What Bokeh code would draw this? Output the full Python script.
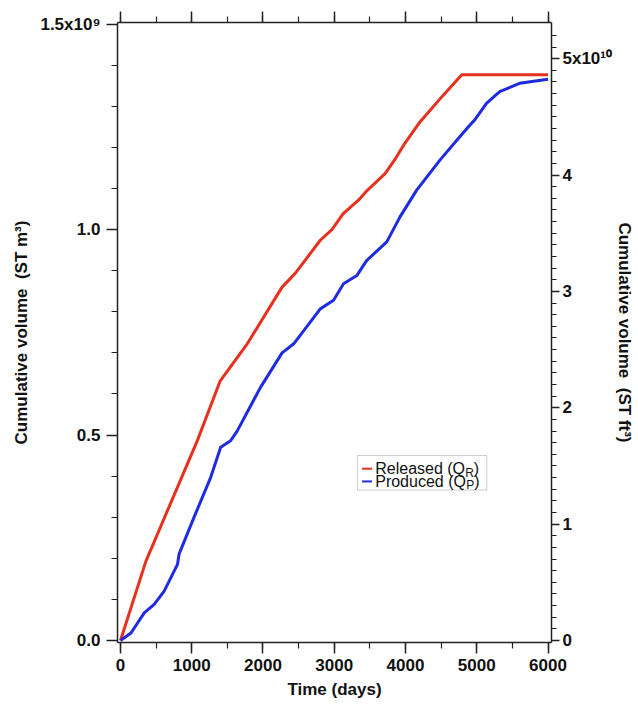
from bokeh.plotting import figure
from bokeh.models import Range1d, LinearAxis, FixedTicker, BoxAnnotation, Label, Arrow
from bokeh.embed import file_html
from bokeh.resources import INLINE

# Cumulative volumes in units of 1e9 standard m^3 versus time in days
released_days = [0, 357, 1080, 1400, 1779, 2268, 2455, 2804, 2967, 3126, 3336, 3461,
                 3713, 3850, 3990, 4203, 4524, 4790, 6000]
released_vol = [0.0, 0.193, 0.487, 0.632, 0.722, 0.860, 0.894, 0.974, 1.000, 1.039, 1.071,
                1.095, 1.136, 1.170, 1.210, 1.262, 1.326, 1.377, 1.377]

produced_days = [0, 147, 333, 473, 613, 800, 822, 1033, 1266, 1406, 1545, 1639, 1965, 2268,
                 2431, 2804, 2990, 3130, 3317, 3410, 3457, 3737, 3923, 4157, 4483, 4762,
                 4902, 4972, 5136, 5322, 5601, 6000]
produced_vol = [0.0, 0.018, 0.067, 0.088, 0.120, 0.185, 0.210, 0.300, 0.397, 0.470, 0.486,
                0.510, 0.616, 0.700, 0.722, 0.807, 0.828, 0.868, 0.888, 0.913, 0.925, 0.970,
                1.031, 1.096, 1.169, 1.226, 1.254, 1.267, 1.307, 1.336, 1.356, 1.366]

x_ticks = [0, 1000, 2000, 3000, 4000, 5000, 6000]
x_minor = [0, 500, 1000, 1500, 2000, 2500, 3000, 3500, 4000, 4500, 5000, 5500, 6000]
m3_ticks = [0, 0.5, 1.0, 1.5]
m3_labels = ["0.0", "0.5", "1.0", "1.5x10\u2079"]
ft3_ticks = [0, 1, 2, 3, 4, 5]
ft3_labels = ["0", "1", "2", "3", "4", "5x10\u00b9\u2070"]

M3_TO_FT3_E10 = 35.3147 / 10.0  # 1e9 m^3 -> 1e10 ft^3

FONT = "Liberation Sans"
AXIS_COLOR = "#222222"
RED = "#e8301e"
BLUE = "#1e2be0"

y0, y1 = -0.005, 1.504
p = figure(width=638, height=715, x_range=Range1d(-42, 6049), y_range=Range1d(y0, y1),
           output_backend="svg", toolbar_location=None,
           min_border_left=117, min_border_right=87, min_border_top=22, min_border_bottom=73)
p.outline_line_color = None
p.grid.visible = False
p.background_fill_color = "white"

p.extra_y_ranges = {"ft3": Range1d(y0 * M3_TO_FT3_E10, y1 * M3_TO_FT3_E10)}


def style_axis(ax, major, minor, labels=None, tick_out=11, minor_out=6):
    ax.ticker = FixedTicker(ticks=major, minor_ticks=minor)
    ax.axis_line_color = AXIS_COLOR
    ax.axis_line_width = 1.5
    ax.major_tick_line_color = AXIS_COLOR
    ax.major_tick_line_width = 1.5
    ax.minor_tick_line_color = AXIS_COLOR
    ax.minor_tick_line_width = 1.2
    ax.major_tick_out = tick_out
    ax.major_tick_in = 0
    ax.minor_tick_out = minor_out
    ax.minor_tick_in = 0
    ax.major_label_text_font = FONT
    ax.major_label_text_font_style = "bold"
    ax.major_label_text_font_size = "17px"
    ax.major_label_text_color = "#111111"
    ax.axis_label_text_font = FONT
    ax.axis_label_text_font_style = "bold"
    ax.axis_label_text_font_size = "17px"
    ax.axis_label_text_color = "#111111"
    if labels is not None:
        ax.major_label_overrides = {t: s for t, s in zip(major, labels)}


# bottom axis
xa = p.xaxis[0]
style_axis(xa, x_ticks, x_minor)
xa.axis_label = "Time (days)"
xa.major_label_standoff = 5
xa.axis_label_standoff = 6

# left axis (m^3)
ya = p.yaxis[0]
style_axis(ya, m3_ticks, [round(0.1 * i, 1) for i in range(16)], m3_labels)
ya.axis_label = "Cumulative volume \u00a0(ST m\u00b3)"
ya.major_label_standoff = 6
ya.axis_label_standoff = 6

# right axis (ft^3): ticks and numbers
ra = LinearAxis(y_range_name="ft3")
style_axis(ra, ft3_ticks, [round(0.1 * i, 1) for i in range(53)], ft3_labels,
           tick_out=8, minor_out=5)
ra.major_label_standoff = 3
p.add_layout(ra, "right")

# right axis title, carried by a bare axis placed outside the numbers
rt = LinearAxis(y_range_name="ft3", ticker=FixedTicker(ticks=[], minor_ticks=[]))
rt.axis_line_color = None
rt.major_tick_line_color = None
rt.minor_tick_line_color = None
rt.major_tick_out = 0
rt.minor_tick_out = 0
rt.major_label_standoff = 0
rt.axis_label = "Cumulative volume \u00a0(ST ft\u00b3)"
rt.axis_label_standoff = 0
rt.axis_label_text_font = FONT
rt.axis_label_text_font_style = "bold"
rt.axis_label_text_font_size = "17px"
rt.axis_label_text_color = "#111111"
p.add_layout(rt, "right")

# top axis: ticks only, no labels
ta = LinearAxis()
style_axis(ta, x_ticks, x_minor, labels=[""] * len(x_ticks))
ta.major_label_text_font_size = "1px"
ta.major_label_text_color = None
ta.major_label_standoff = 0
p.add_layout(ta, "above")

p.line(released_days, released_vol, line_color=RED, line_width=3)
p.line(produced_days, produced_vol, line_color=BLUE, line_width=3)

# legend box with subscripted labels
leg_left, leg_right = 3326, 5140
leg_top, leg_bottom = 0.450, 0.366
row1, row2 = 0.418, 0.387
p.add_layout(BoxAnnotation(left=leg_left, right=leg_right, top=leg_top, bottom=leg_bottom,
                           fill_color="white", fill_alpha=1.0,
                           line_color="#555555", line_width=1))
for row, col in ((row1, RED), (row2, BLUE)):
    p.add_layout(Arrow(end=None, x_start=3390, y_start=row, x_end=3530, y_end=row,
                       line_color=col, line_width=2))

TXT = dict(text_font=FONT, text_font_size="16px", text_color="#111111",
           text_baseline="middle", text_align="left")
SUB = dict(text_font=FONT, text_font_size="12px", text_color="#111111",
           text_baseline="middle", text_align="left")
x_txt = 3575
p.add_layout(Label(x=x_txt, y=row1, text="Released (Q", **TXT))
p.add_layout(Label(x=x_txt, y=row1, x_offset=90, y_offset=-4, text="R", **SUB))
p.add_layout(Label(x=x_txt, y=row1, x_offset=98.5, text=")", **TXT))
p.add_layout(Label(x=x_txt, y=row2, text="Produced (Q", **TXT))
p.add_layout(Label(x=x_txt, y=row2, x_offset=91, y_offset=-4, text="P", **SUB))
p.add_layout(Label(x=x_txt, y=row2, x_offset=99, text=")", **TXT))

open("out.html", "w").write(file_html(p, INLINE))
